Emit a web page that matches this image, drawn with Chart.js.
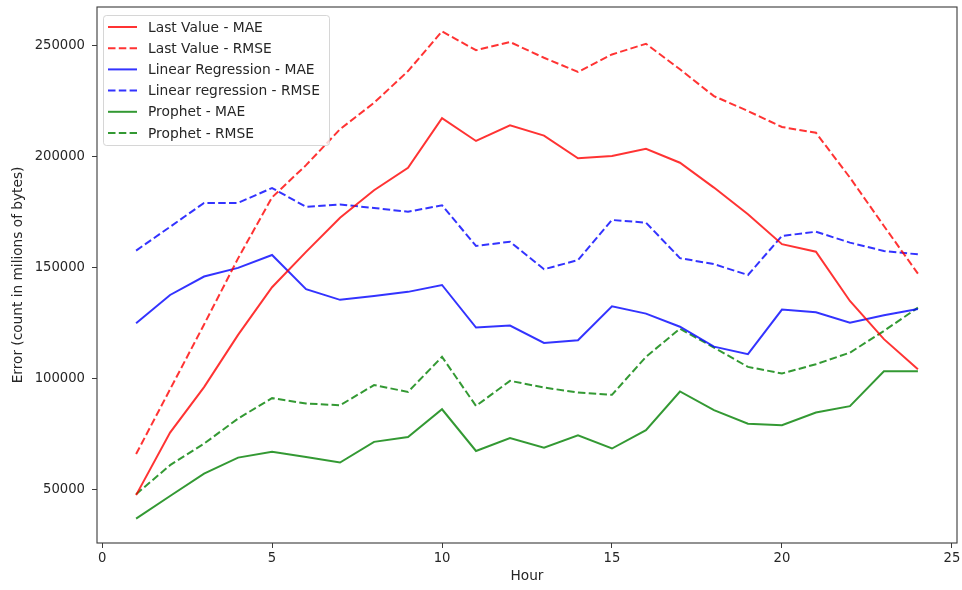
<!DOCTYPE html>
<html>
<head>
<meta charset="utf-8">
<script src="https://cdn.jsdelivr.net/npm/chart.js@4"></script>
<style>
  body { margin: 0; background: #fff; }
  #wrap { width: 962px; height: 590px; }
</style>
</head>
<body>
<div id="wrap"><canvas id="errors" width="962" height="590"></canvas></div>
<script>
const hours = [1, 2, 3, 4, 5, 6, 7, 8, 9, 10, 11, 12, 13, 14, 15, 16, 17, 18, 19, 20, 21, 22, 23, 24];

const lastValueMae = [47300, 75500, 96000, 119500, 141000, 156900, 172300, 184700, 194800, 217200, 206900, 214000,
    209300, 199100, 200100, 203400, 197100, 185900, 173900, 160400, 157000, 134800, 117600, 104000];
const lastValueRmse = [65800, 95000, 124200, 154000, 181500, 196000, 212200, 224100, 238400, 256300, 247800, 251500,
    244400, 238000, 245900, 250700, 239200, 227100, 220400, 213200, 210600, 190400, 168600, 147100];
const linRegMae = [124800, 137500, 145800, 149700, 155500, 140100, 135300, 137000, 138900, 142000, 122800, 123700,
    115900, 117100, 132400, 129100, 123200, 114200, 110800, 130900, 129700, 125000, 128400, 131200];
const linRegRmse = [157500, 168200, 179000, 179000, 185700, 177200, 178300, 176700, 175000, 177900, 159600, 161500,
    149100, 153200, 171300, 170100, 154100, 151400, 146500, 164100, 166000, 161100, 157300, 155800];
const prophetMae = [36700, 46900, 57000, 64200, 66800, 64500, 62000, 71300, 73500, 86000, 67200, 73000,
    68700, 74300, 68300, 76600, 94000, 85600, 79500, 78800, 84500, 87400, 103100, 103100];
const prophetRmse = [47700, 60800, 70500, 81800, 91000, 88600, 87800, 96900, 93800, 109600, 87500, 98800,
    95800, 93500, 92500, 109600, 122300, 113800, 105100, 102100, 106300, 111500, 121300, 131800];

const xTicks = [0, 5, 10, 15, 20, 25];
const yTicks = [50000, 100000, 150000, 200000, 250000];

const RED = "rgba(255, 0, 0, 0.8)";
const BLUE = "rgba(0, 0, 255, 0.8)";
const GREEN = "rgba(0, 128, 0, 0.8)";
const DASH = [7.5, 3.3];
const TEXT = "#262626";

function points(values) {
    return values.map((v, i) => ({x: hours[i], y: v}));
}

function series(label, values, color, dashed) {
    return {
        label: label,
        data: points(values),
        borderColor: color,
        backgroundColor: color,
        borderWidth: 2,
        borderDash: dashed ? DASH : [],
        pointRadius: 0,
        tension: 0,
        fill: false
    };
}

// 5% padding around the data, like matplotlib autoscaling
function padded(values) {
    const lo = Math.min(...values), hi = Math.max(...values);
    const m = (hi - lo) * 0.05;
    return [lo - m, hi + m];
}

const allValues = [].concat(lastValueMae, lastValueRmse, linRegMae, linRegRmse, prophetMae, prophetRmse);
const [yMin, yMax] = padded(allValues);
const [xMin, xMax] = padded(hours);

// frame around the plot + legend box in the upper left
const framePlugin = {
    id: "frameAndLegend",
    afterDatasetsDraw(chart) {
        const {ctx, chartArea: a} = chart;
        ctx.save();
        ctx.strokeStyle = "#3a3a3a";
        ctx.lineWidth = 1.1;
        ctx.strokeRect(a.left, a.top, a.right - a.left, a.bottom - a.top);

        const bx = 103.5, by = 15.5, bw = 226, bh = 130;
        ctx.beginPath();
        ctx.roundRect(bx, by, bw, bh, 3);
        ctx.fillStyle = "rgba(255,255,255,0.8)";
        ctx.fill();
        ctx.strokeStyle = "rgba(204,204,204,0.8)";
        ctx.lineWidth = 1;
        ctx.stroke();

        ctx.font = "13.8px 'DejaVu Sans'";
        ctx.textBaseline = "middle";
        ctx.textAlign = "left";
        chart.data.datasets.forEach((ds, i) => {
            const y = 27 + i * 21.2;
            ctx.beginPath();
            ctx.setLineDash(ds.borderDash);
            ctx.strokeStyle = ds.borderColor;
            ctx.lineWidth = 2;
            ctx.moveTo(108, y);
            ctx.lineTo(137, y);
            ctx.stroke();
            ctx.setLineDash([]);
            ctx.fillStyle = TEXT;
            ctx.fillText(ds.label, 148, y + 1);
        });
        ctx.restore();
    }
};

new Chart("errors", {
    type: "line",
    data: {
        datasets: [
            series("Last Value - MAE", lastValueMae, RED, false),
            series("Last Value - RMSE", lastValueRmse, RED, true),
            series("Linear Regression - MAE", linRegMae, BLUE, false),
            series("Linear regression - RMSE", linRegRmse, BLUE, true),
            series("Prophet - MAE", prophetMae, GREEN, false),
            series("Prophet - RMSE", prophetRmse, GREEN, true)
        ]
    },
    options: {
        responsive: false,
        animation: false,
        layout: {
            padding: {top: 7, right: 5, left: 0, bottom: 0}
        },
        plugins: {
            legend: {display: false},
            tooltip: {enabled: false}
        },
        scales: {
            x: {
                type: "linear",
                min: xMin,
                max: xMax,
                afterBuildTicks: (scale) => {
                    scale.ticks = xTicks.map(v => ({value: v}));
                },
                afterFit: (scale) => {
                    scale.height = 47;
                    scale.paddingLeft = 0;
                    scale.paddingRight = 0;
                },
                grid: {
                    drawOnChartArea: false,
                    drawTicks: true,
                    tickLength: 5,
                    tickColor: "#3a3a3a",
                    tickWidth: 1
                },
                border: {display: false},
                ticks: {
                    color: TEXT,
                    padding: 3,
                    maxRotation: 0,
                    font: {family: "DejaVu Sans", size: 13.2},
                    callback: (v) => String(v)
                },
                title: {
                    display: true,
                    text: "Hour",
                    color: TEXT,
                    font: {family: "DejaVu Sans", size: 13.7},
                    padding: {top: 0, bottom: 5}
                }
            },
            y: {
                type: "linear",
                min: yMin,
                max: yMax,
                afterBuildTicks: (scale) => {
                    scale.ticks = yTicks.map(v => ({value: v}));
                },
                afterFit: (scale) => {
                    scale.width = 97;
                    scale.paddingTop = 0;
                    scale.paddingBottom = 0;
                },
                grid: {
                    drawOnChartArea: false,
                    drawTicks: true,
                    tickLength: 5,
                    tickColor: "#3a3a3a",
                    tickWidth: 1
                },
                border: {display: false},
                ticks: {
                    color: TEXT,
                    padding: 7,
                    font: {family: "DejaVu Sans", size: 13.2},
                    callback: (v) => String(v)
                },
                title: {
                    display: true,
                    text: "Error (count in milions of bytes)",
                    color: TEXT,
                    font: {family: "DejaVu Sans", size: 13.7},
                    padding: {top: 10, bottom: 0}
                }
            }
        }
    },
    plugins: [framePlugin]
});
</script>
</body>
</html>
